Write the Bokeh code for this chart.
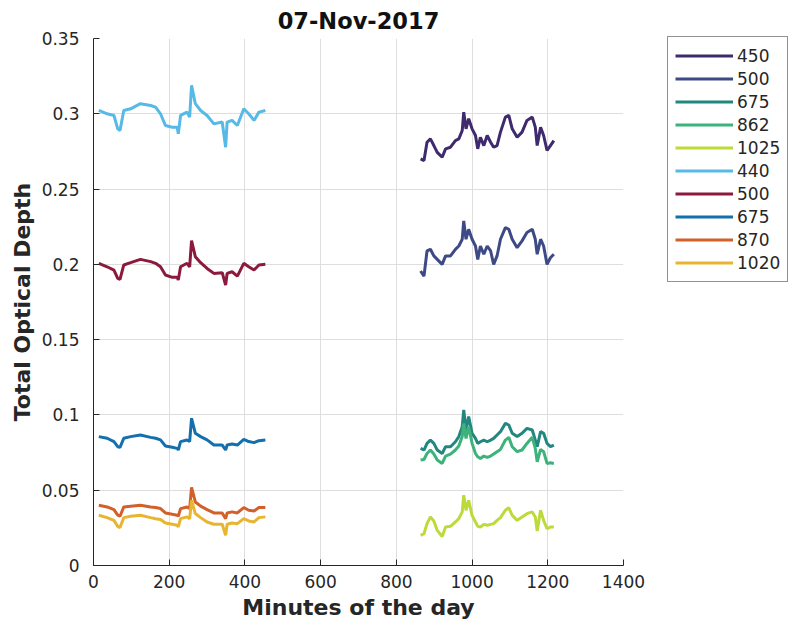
from bokeh.plotting import figure
from bokeh.models import Legend, LegendItem, FixedTicker, Range1d
from bokeh.embed import file_html
from bokeh.resources import INLINE

# ---- data ----
left_minutes = [14, 36, 54, 64, 70, 80, 98, 124, 151, 164, 177, 190, 208, 221, 224, 230,
                247, 254, 259, 269, 283, 300, 318, 340, 349, 353, 366, 380, 397, 410, 424, 437, 454]
right_minutes = [864, 873, 881, 890, 899, 908, 921, 930, 943, 956, 965, 974, 978, 984, 991,
                 1000, 1009, 1015, 1022, 1031, 1040, 1049, 1057, 1066, 1075, 1088, 1097, 1106,
                 1119, 1132, 1145, 1159, 1167, 1172, 1181, 1189, 1198, 1207, 1216]

# right group (one instrument)
tod_450 = [0.2700, 0.2689, 0.2811, 0.2833, 0.2789, 0.2744, 0.2711, 0.2767, 0.2778, 0.2822,
           0.2833, 0.2889, 0.3011, 0.2900, 0.2967, 0.2900, 0.2856, 0.2767, 0.2844, 0.2789,
           0.2856, 0.2811, 0.2778, 0.2789, 0.2878, 0.2978, 0.2989, 0.2900, 0.2844, 0.2878,
           0.2956, 0.2978, 0.2911, 0.2789, 0.2911, 0.2856, 0.2756, 0.2789, 0.2822]
tod_500r = [0.1956, 0.1922, 0.2089, 0.2100, 0.2056, 0.2033, 0.2000, 0.2056, 0.2056, 0.2100,
            0.2122, 0.2167, 0.2289, 0.2167, 0.2233, 0.2167, 0.2122, 0.2033, 0.2122, 0.2067,
            0.2122, 0.2089, 0.2000, 0.2056, 0.2167, 0.2244, 0.2233, 0.2167, 0.2111, 0.2156,
            0.2211, 0.2233, 0.2167, 0.2067, 0.2167, 0.2122, 0.2000, 0.2044, 0.2067]
tod_675r = [0.0778, 0.0767, 0.0811, 0.0833, 0.0811, 0.0767, 0.0744, 0.0789, 0.0789, 0.0822,
            0.0856, 0.0922, 0.1033, 0.0900, 0.0989, 0.0878, 0.0844, 0.0811, 0.0822, 0.0833,
            0.0822, 0.0833, 0.0844, 0.0867, 0.0889, 0.0944, 0.0933, 0.0878, 0.0856, 0.0878,
            0.0911, 0.0900, 0.0833, 0.0789, 0.0889, 0.0878, 0.0811, 0.0789, 0.0800]
tod_862 = [0.0700, 0.0704, 0.0744, 0.0767, 0.0740, 0.0700, 0.0678, 0.0727, 0.0740, 0.0767,
           0.0793, 0.0856, 0.0944, 0.0844, 0.0922, 0.0811, 0.0744, 0.0722, 0.0711, 0.0727,
           0.0718, 0.0727, 0.0740, 0.0756, 0.0771, 0.0833, 0.0851, 0.0789, 0.0756, 0.0767,
           0.0811, 0.0851, 0.0778, 0.0689, 0.0771, 0.0756, 0.0678, 0.0682, 0.0678]
tod_1025 = [0.0200, 0.0211, 0.0278, 0.0322, 0.0296, 0.0233, 0.0193, 0.0256, 0.0260, 0.0289,
            0.0311, 0.0356, 0.0467, 0.0367, 0.0433, 0.0333, 0.0289, 0.0260, 0.0256, 0.0273,
            0.0267, 0.0273, 0.0278, 0.0300, 0.0318, 0.0367, 0.0384, 0.0333, 0.0300, 0.0322,
            0.0344, 0.0356, 0.0322, 0.0229, 0.0367, 0.0300, 0.0244, 0.0256, 0.0256]

# left group (other instrument)
tod_440 = [0.3022, 0.3000, 0.2989, 0.2900, 0.2889, 0.3022, 0.3033, 0.3067, 0.3055, 0.3044,
           0.3000, 0.2922, 0.2911, 0.2911, 0.2867, 0.2989, 0.3011, 0.2978, 0.3189, 0.3067,
           0.3022, 0.2989, 0.2933, 0.2945, 0.2778, 0.2945, 0.2956, 0.2922, 0.3033, 0.3000,
           0.2956, 0.3011, 0.3022]
tod_500l = [0.2007, 0.1984, 0.1962, 0.1907, 0.1900, 0.1996, 0.2011, 0.2033, 0.2018, 0.2007,
            0.1984, 0.1929, 0.1914, 0.1914, 0.1896, 0.1984, 0.2007, 0.1984, 0.2157, 0.2051,
            0.2011, 0.1973, 0.1940, 0.1945, 0.1862, 0.1940, 0.1951, 0.1922, 0.2007, 0.1984,
            0.1962, 0.1996, 0.2000]
tod_675l = [0.0856, 0.0845, 0.0823, 0.0789, 0.0785, 0.0845, 0.0856, 0.0867, 0.0851, 0.0845,
            0.0834, 0.0794, 0.0785, 0.0778, 0.0767, 0.0823, 0.0834, 0.0823, 0.0978, 0.0878,
            0.0856, 0.0834, 0.0800, 0.0800, 0.0767, 0.0800, 0.0807, 0.0800, 0.0838, 0.0823,
            0.0816, 0.0829, 0.0834]
tod_870 = [0.0400, 0.0389, 0.0371, 0.0334, 0.0327, 0.0389, 0.0394, 0.0400, 0.0389, 0.0385,
           0.0378, 0.0349, 0.0340, 0.0334, 0.0327, 0.0378, 0.0389, 0.0378, 0.0518, 0.0422,
           0.0394, 0.0371, 0.0349, 0.0349, 0.0311, 0.0349, 0.0356, 0.0349, 0.0385, 0.0367,
           0.0362, 0.0385, 0.0385]
tod_1020 = [0.0334, 0.0318, 0.0300, 0.0260, 0.0252, 0.0318, 0.0327, 0.0334, 0.0318, 0.0311,
            0.0305, 0.0282, 0.0274, 0.0267, 0.0256, 0.0311, 0.0323, 0.0311, 0.0433, 0.0345,
            0.0318, 0.0289, 0.0274, 0.0274, 0.0200, 0.0274, 0.0282, 0.0278, 0.0311, 0.0296,
            0.0289, 0.0318, 0.0323]

legend_labels = ["450", "500", "675", "862", "1025", "440", "500", "675", "870", "1020"]
x_ticks = [0, 200, 400, 600, 800, 1000, 1200, 1400]
y_ticks = [0, 0.05, 0.1, 0.15, 0.2, 0.25, 0.3, 0.35]
y_tick_labels = ["0", "0.05", "0.1", "0.15", "0.2", "0.25", "0.3", "0.35"]

colors = ["#3f2a6e", "#3d4a86", "#22877f", "#3db27a", "#bcdb3a",
          "#56b9e6", "#8c1a3c", "#1370ad", "#d2602a", "#e8b530"]

series = [(right_minutes, tod_450), (right_minutes, tod_500r), (right_minutes, tod_675r),
          (right_minutes, tod_862), (right_minutes, tod_1025),
          (left_minutes, tod_440), (left_minutes, tod_500l), (left_minutes, tod_675l),
          (left_minutes, tod_870), (left_minutes, tod_1020)]

FONT = "DejaVu Sans"
TXT = "#262626"

p = figure(frame_width=530, frame_height=527, output_backend="svg", toolbar_location=None,
           x_range=Range1d(0, 1400), y_range=Range1d(0, 0.35),
           min_border_left=93, min_border_right=150, min_border_top=30, min_border_bottom=50,
           title="07-Nov-2017")
p.title.align = "center"
p.title.text_font = FONT
p.title.text_font_size = "22.5px"
p.title.text_font_style = "bold"
p.title.text_color = "#111111"
p.title.offset = 0

p.outline_line_color = None
p.background_fill_color = "white"
p.border_fill_color = "white"

for ax in (p.xaxis[0], p.yaxis[0]):
    ax.axis_line_color = TXT
    ax.major_tick_line_color = TXT
    ax.major_tick_in = 6
    ax.major_tick_out = 0
    ax.minor_tick_line_color = None
    ax.major_label_text_font = FONT
    ax.major_label_text_font_size = "17px"
    ax.major_label_text_color = TXT
    ax.axis_label_text_font = FONT
    ax.axis_label_text_font_size = "22px"
    ax.axis_label_text_font_style = "bold"
    ax.axis_label_text_color = TXT

p.xaxis.ticker = FixedTicker(ticks=x_ticks)
p.yaxis.ticker = FixedTicker(ticks=y_ticks)
p.yaxis.major_label_overrides = {t: s for t, s in zip(y_ticks, y_tick_labels)}
p.xaxis.axis_label = "Minutes of the day"
p.yaxis.axis_label = "Total Optical Depth"
p.xaxis.major_label_standoff = 9
p.xaxis.axis_label_standoff = 4
p.yaxis.major_label_standoff = 14
p.yaxis.axis_label_standoff = 4

p.grid.grid_line_color = "#dedede"
p.grid.grid_line_width = 1

items = []
for (xs, ys), c, lab in zip(series, colors, legend_labels):
    r = p.line(xs, ys, line_color=c, line_width=3)
    items.append(LegendItem(label=lab, renderers=[r]))

legend = Legend(items=items, location=(44, 283))
legend.label_text_font = FONT
legend.label_text_font_size = "17px"
legend.label_text_color = TXT
legend.glyph_width = 58
legend.glyph_height = 23
legend.label_height = 23
legend.label_standoff = 4
legend.spacing = 0
legend.padding = 7
legend.margin = 0
legend.border_line_color = TXT
legend.border_line_width = 1
legend.background_fill_color = "white"
legend.background_fill_alpha = 1
p.add_layout(legend, "right")

open("out.html", "w").write(file_html(p, INLINE))
